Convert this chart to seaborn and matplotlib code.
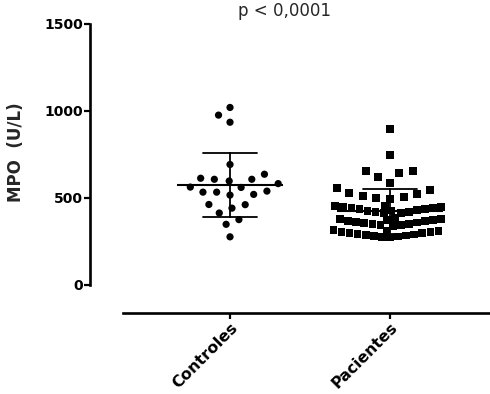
import pandas as pd
import numpy as np
import matplotlib
matplotlib.use('Agg')
import matplotlib.pyplot as plt
import seaborn as sns

# valores (MPO em U/L)
grupos = ['Controles', 'Pacientes']

controles = [1020, 976, 935, 692, 636, 607, 597, 607, 613, 582, 560, 562,
             533, 520, 516, 533, 539, 462, 441, 461, 413, 375, 348, 276]

pacientes_altos = [898, 744, 657, 642, 657, 620, 586, 557, 529, 512, 500,
                   495, 507, 520, 545]
# as tres faixas densas de quadrados
pacientes_faixa1 = [412, 415, 418, 421, 424, 427, 430, 434, 437, 440, 443,
                    446, 449, 452, 456]
pacientes_faixa2 = [340, 343, 346, 349, 352, 355, 358, 362, 365, 368, 371,
                    374, 377, 380, 384]
pacientes_faixa3 = [272, 275, 278, 281, 284, 287, 290, 294, 297, 300, 303,
                    306, 309, 312, 316]
pacientes_faixas = pacientes_faixa1 + pacientes_faixa2 + pacientes_faixa3
pacientes = pacientes_altos + pacientes_faixas

yticks = [0, 500, 1000, 1500]
texto_p = 'p < 0,0001'

df = pd.DataFrame({
    'grupo': ['Controles'] * len(controles) + ['Pacientes'] * len(pacientes),
    'MPO': controles + pacientes,
})
df_ctrl = pd.DataFrame({'grupo': 'Controles', 'MPO': controles})
df_altos = pd.DataFrame({'grupo': 'Pacientes', 'MPO': pacientes_altos})
df_faixas = pd.DataFrame({'grupo': 'Pacientes', 'MPO': pacientes_faixas})

sns.set_style('white')
plt.rcParams['font.family'] = ['DejaVu Sans']

fig = plt.figure(figsize=(4.9, 3.94), dpi=100)
ax = fig.add_axes([0.1837, 0.2056, 0.8163, 0.7335])

# borda invisivel so para espacar os pontos como no prism
sns.swarmplot(data=df_ctrl, x='grupo', y='MPO', order=grupos, marker='o',
              size=5.2, color='black', edgecolor='none', linewidth=4.2, ax=ax)
sns.swarmplot(data=df_altos, x='grupo', y='MPO', order=grupos, marker='s',
              size=5.8, color='black', edgecolor='none', linewidth=3.6, ax=ax)
sns.swarmplot(data=df_faixas, x='grupo', y='MPO', order=grupos, marker='s',
              size=5.6, color='black', edgecolor='none', linewidth=0, ax=ax)

# media +- desvio padrao
sns.pointplot(data=df, x='grupo', y='MPO', order=grupos, errorbar='sd',
              capsize=0.34, color='black', linestyle='none', marker='_',
              markersize=76, markeredgewidth=1.5, err_kws={'linewidth': 1.3}, ax=ax)

ax.set_ylim(-162, 1500)
ax.set_xlim(-0.875, 1.625)
ax.set_yticks(yticks)
ax.set_yticklabels([str(t) for t in yticks], fontsize=10, fontweight='bold')
ax.set_xticks(range(len(grupos)))
ax.set_xticklabels(grupos, fontsize=11.3, fontweight='bold', rotation=45,
                   ha='right', rotation_mode='anchor')

for s in ['top', 'right']:
    ax.spines[s].set_visible(False)
ax.spines['left'].set_bounds(0, 1500)
ax.spines['bottom'].set_bounds(-0.67, 1.625)
for s in ['left', 'bottom']:
    ax.spines[s].set_linewidth(1.9)
    ax.spines[s].set_color('black')

ax.tick_params(axis='both', width=1.6, length=4, direction='out', pad=1,
               left=True, bottom=True, colors='black')

ax.set_xlabel('')
ax.set_ylabel('MPO  (U/L)', fontsize=12, fontweight='bold')
ax.yaxis.set_label_coords(-0.163, 0.557)

fig.text(284 / 490, 1 - 11 / 394, texto_p, fontsize=12, ha='center', va='center')

plt.savefig('out.png', dpi=100)
